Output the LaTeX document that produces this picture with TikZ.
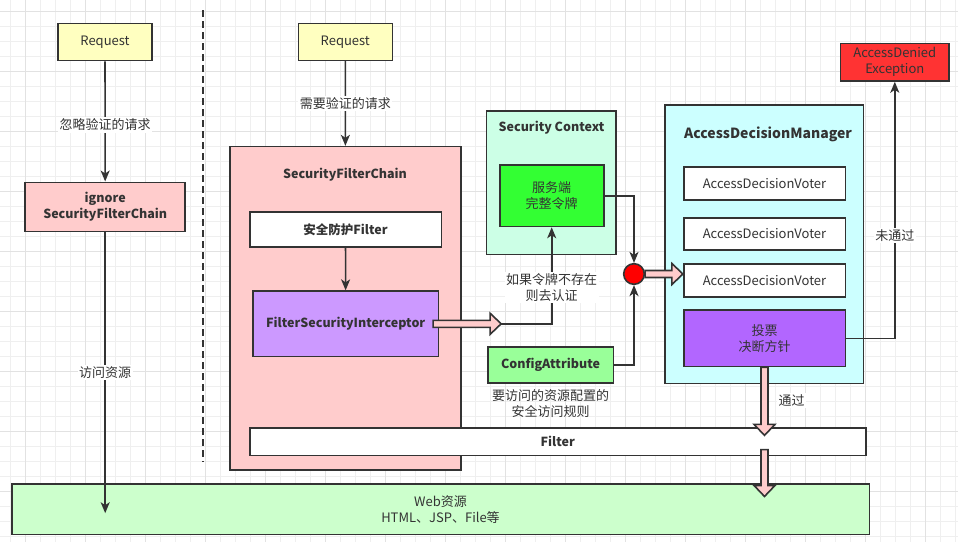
\documentclass[tikz,border=0pt]{standalone}
\usepackage{fontspec}
\setmainfont{Noto Sans CJK SC}
\usetikzlibrary{arrows.meta, positioning, calc}

\definecolor{ink}{HTML}{333333}
\definecolor{reqyellow}{HTML}{FFFFC0}
\definecolor{chainpink}{HTML}{FFCCCC}
\definecolor{fsipurple}{HTML}{CC99FF}
\definecolor{ctxmint}{HTML}{CCFFE6}
\definecolor{tokengreen}{HTML}{33FF33}
\definecolor{cfggreen}{HTML}{99FF99}
\definecolor{admcyan}{HTML}{CCFFFF}
\definecolor{votepurple}{HTML}{B266FF}
\definecolor{deniedred}{HTML}{FF3333}
\definecolor{webgreen}{HTML}{CCFFCC}
\definecolor{gridminor}{HTML}{EFEFEF}
\definecolor{gridmajor}{HTML}{E2E2E2}

\tikzset{
  box/.style={draw=ink, line width=1.6pt, text=ink, align=center, inner sep=0pt,
    font=\fontsize{13}{16}\selectfont},
  bbox/.style={box, font=\fontsize{12.5}{16}\selectfont\bfseries},
  hd/.style={text=ink, align=center, inner sep=0pt, font=\fontsize{12.5}{16}\selectfont\bfseries},
  lbl/.style={fill=white, text=ink, align=center, inner sep=1.5pt,
    font=\fontsize{13}{16}\selectfont},
  note/.style={text=ink, align=center, inner sep=0pt, font=\fontsize{13}{16}\selectfont},
  arr/.style={draw=ink, line width=1.6pt, -{Stealth[length=11pt,width=9pt,inset=3pt]}},
  fatarr/.style={draw=ink, fill=chainpink, line width=1.6pt, line join=miter},
  dot/.style={circle, draw=ink, fill=red, line width=1.6pt, minimum size=20.6pt, inner sep=0pt},
}

% block arrows (pink, outlined)
\newcommand{\fatright}[2]{%
  \filldraw[fatarr] let \p1=(#1), \p2=(#2) in
    (\x1,\y1+3.5pt) -- (\x2-11pt,\y1+3.5pt) -- (\x2-11pt,\y1+10.5pt) -- (\x2,\y1)
    -- (\x2-11pt,\y1-10.5pt) -- (\x2-11pt,\y1-3.5pt) -- (\x1,\y1-3.5pt) -- cycle;}
\newcommand{\fatdown}[2]{%
  \filldraw[fatarr] let \p1=(#1), \p2=(#2) in
    (\x1-3.5pt,\y1) -- (\x1-3.5pt,\y2+11pt) -- (\x1-10.5pt,\y2+11pt) -- (\x1,\y2)
    -- (\x1+10.5pt,\y2+11pt) -- (\x1+3.5pt,\y2+11pt) -- (\x1+3.5pt,\y1) -- cycle;}

\begin{document}
\begin{tikzpicture}[x=1pt,y=-1pt]
	\useasboundingbox (0,0) rectangle (958,542);
	\fill[white] (0,0) rectangle (958,542);
	
	% background grid
	\foreach \x in {10,25,...,955} \draw[gridminor, line width=1pt] (\x,0) -- (\x,542);
	\foreach \y in {11,26,...,541} \draw[gridminor, line width=1pt] (0,\y) -- (958,\y);
	\foreach \x in {25,85,...,955} \draw[gridmajor, line width=1pt] (\x,0) -- (\x,542);
	\foreach \y in {11,71,...,541} \draw[gridmajor, line width=1pt] (0,\y) -- (958,\y);
	
	% separator
	\draw[ink, line width=1.6pt, dash pattern=on 7pt off 4pt] (203,10) -- (203,462);
	
	% left side
	\node[box, fill=reqyellow, minimum width=94pt, minimum height=37pt] (req1) at (105,42) {Request};
	\node[bbox, fill=chainpink, minimum width=160pt, minimum height=49pt] (ignore) at (105.2,206.8) {ignore\\SecurityFilterChain};
	
	% web resources
	\node[box, fill=webgreen, minimum width=857.6pt, minimum height=50.7pt] (web) at (440.5,509.2) {Web资源\\HTML、JSP、File等};
	
	% security filter chain
	\node[box, fill=reqyellow, minimum width=94pt, minimum height=37pt] (req2) at (345.3,41.8) {Request};
	\node[box, fill=chainpink, minimum width=231pt, minimum height=323.3pt] (sfc) at (345.5,308.3) {};
	\node[hd] (sfctitle) at (345,175) {SecurityFilterChain};
	\node[bbox, fill=white, minimum width=191.6pt, minimum height=34.6pt] (safe) at (345.5,229.5) {安全防护Filter};
	\node[bbox, fill=fsipurple, minimum width=185.3pt, minimum height=65.3pt] (fsi) at (345.7,323.8) {FilterSecurityInterceptor};
	\node[bbox, fill=white, minimum width=616pt, minimum height=27.3pt] (filter) at (557.8,441.8) {Filter};
	
	% security context
	\node[box, fill=ctxmint, minimum width=129.3pt, minimum height=143.6pt] (sc) at (551.3,182.5) {};
	\node[hd] (sctitle) at (551.5,128) {Security Context};
	\node[box, fill=tokengreen, minimum width=104pt, minimum height=61.3pt] (token) at (551.7,195.8) {服务端\\完整令牌};
	\node[bbox, fill=cfggreen, minimum width=125.6pt, minimum height=36pt] (cfg) at (550.5,365.2) {ConfigAttribute};
	\node[note, below=5pt of cfg] (cfgnote) {要访问的资源配置的\\安全访问规则};
	\node[dot] (dot) at (634,274) {};
	
	% access decision manager
	\node[box, fill=admcyan, minimum width=198.6pt, minimum height=278.6pt] (adm) at (764,244) {};
	\node[hd, font=\fontsize{14}{16}\selectfont\bfseries] (admtitle) at (768,134.5) {AccessDecisionManager};
	\node[box, fill=white, minimum width=161.6pt, minimum height=32.6pt] (v1) at (764.5,183.5) {AccessDecisionVoter};
	\node[box, fill=white, minimum width=161.6pt, minimum height=31.6pt] (v2) at (764.5,234) {AccessDecisionVoter};
	\node[box, fill=white, minimum width=161.6pt, minimum height=33pt] (v3) at (764.5,280.5) {AccessDecisionVoter};
	\node[box, fill=votepurple, minimum width=161.6pt, minimum height=56.6pt] (vote) at (764.5,338.3) {投票\\决断方针};
	\node[box, fill=deniedred, minimum width=108.3pt, minimum height=37.4pt] (denied) at (894.8,62.3) {AccessDenied\\Exception};
	
	% connectors
	\draw[arr] (req1) -- node[lbl, pos=0.53] {忽略验证的请求} (ignore);
	\draw[arr] (ignore) -- node[lbl] {访问资源} ($(ignore.south |- web.center)+(0,4)$);
	\draw[arr] (req2) -- node[lbl] {需要验证的请求} (sfc);
	\draw[arr] (safe) -- (fsi);
	
	\coordinate (fsiout) at ($(fsi.east)+(-6,0)$);
	\coordinate (authin) at ($(fsi.east)+(62,0)$);
	\fatright{fsiout}{authin};
	\draw[arr] (authin) -| node[lbl, pos=0.69] {如果令牌不存在\\则去认证} (token.south);
	\draw[arr] (token.east) -| (dot.north);
	\draw[arr] (cfg.east) -| (dot.south);
	\fatright{dot.east}{v3.west};
	
	\draw[arr] (vote.east) -| node[lbl, pos=0.7] {未通过} (denied.south);
	\coordinate (passin) at ($(vote.south |- filter.north)+(0,8)$);
	\fatdown{vote.south}{passin};
	\node[lbl] (pass) at (791.7,400.5) {通过};
	\coordinate (webout) at ($(vote.south |- filter.south)+(0,-6.7)$);
	\coordinate (webin) at ($(vote.south |- web.north)+(0,13.4)$);
	\fatdown{webout}{webin};
\end{tikzpicture}
\end{document}
